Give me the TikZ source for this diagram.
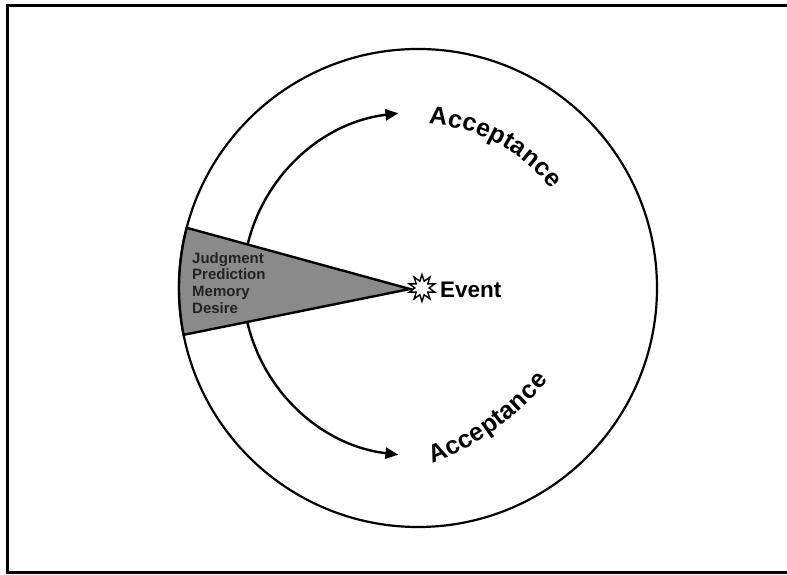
\documentclass[tikz,border=0pt]{standalone}
\usepackage{fontspec}
\setmainfont{Liberation Sans}
\usetikzlibrary{shapes.geometric,arrows.meta,decorations.text}
\definecolor{wedgegray}{RGB}{138,138,138}
\definecolor{textgray}{RGB}{34,34,34}
\newcommand\accfont{\fontsize{25}{29}\selectfont\bfseries}
\begin{document}
\begin{tikzpicture}[x=1pt,y=1pt,
  frame/.style={line width=3pt},
  ring/.style={line width=2.2pt},
  flow/.style={line width=2.4pt,-{Triangle[length=13pt,width=11pt]}},
  wedgefill/.style={fill=wedgegray,draw=black,line width=2.4pt},
  lbl/.style={font=\fontsize{15}{17}\selectfont\bfseries,text=textgray,inner sep=0pt,anchor=base west},
  curvedtext/.style={decorate,decoration={text along path,text={|\accfont|#1},text align={fit to path}}},
]
\useasboundingbox (0,0) rectangle (787,575);
% frame
\draw[frame] (787,569) -- (7.7,569) -- (7.7,2.5) -- (787,2.5);
% outer circle
\draw[ring] (418,287) circle[radius=239];
% arrows
\draw[flow] (243,291) arc[start angle=180,end angle=97,x radius=177,y radius=172];
\draw[flow] (243,291) arc[start angle=180,end angle=263,x radius=177,y radius=172];
% wedge
\filldraw[wedgefill] (410,286) -- (186.7,347.2) arc[start angle=165.4,end angle=191.3,radius=239] -- cycle;
\node[lbl] (j1) at (192,311.7) {Judgment};
\node[lbl] (j2) at (192,295) {Prediction};
\node[lbl] (j3) at (192,278.3) {Memory};
\node[lbl] (j4) at (192,261.7) {Desire};
% star and event
\node[star,star points=10,star point ratio=1.9,minimum size=27pt,fill=white,draw=black,line width=1.4pt,inner sep=0pt] (flash) at (422,287) {};
\node[font=\fontsize{22.5}{26}\selectfont\bfseries,anchor=base west,inner sep=0pt] (event) at (440,277) {Event};
% acceptance labels
\path[curvedtext=Acceptance] (428.6,450.8) arc[start angle=87,end angle=37,radius=164];
\path[curvedtext=Acceptance] (432.1,112.0) arc[start angle=-70.3,end angle=-38.5,radius=260];
\end{tikzpicture}
\end{document}
